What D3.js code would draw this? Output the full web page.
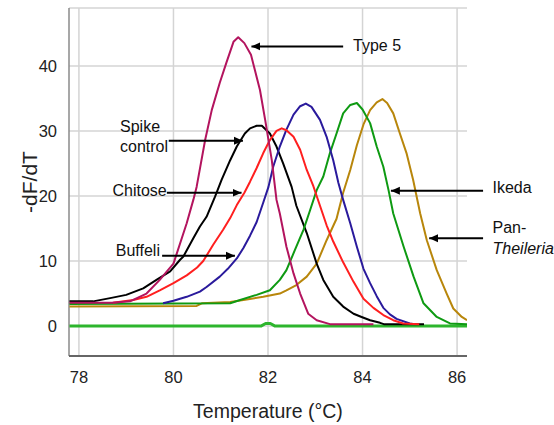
<!DOCTYPE html>
<html>
<head>
<meta charset="utf-8">
<script src="https://cdn.jsdelivr.net/npm/d3@7"></script>
<style>
  body { margin: 0; background: #fff; }
  svg { display: block; font-family: "Liberation Sans", Arial, sans-serif; }
</style>
</head>
<body>
<div id="chart"></div>
<script>
// melt curves, each point is [temperature °C, -dF/dT]
const type5 = [[77.8,3.6],[78.7,3.6],[79.08,3.8],[79.43,5.0],[79.71,7.1],[80.0,9.6],[80.28,15.8],[80.42,19.4],
  [80.49,21.4],[80.67,28.6],[80.81,33.2],[80.98,37.4],[81.12,40.5],[81.27,43.7],[81.37,44.4],[81.5,43.5],
  [81.64,41.7],[81.83,36.3],[81.94,31.7],[82.08,25.5],[82.18,19.4],[82.25,17.3],[82.39,12.2],[82.54,8.1],
  [82.68,5.0],[82.85,1.9],[83.03,0.9],[83.31,0.3],[84.23,0.3]];

const spikeControl = [[77.8,3.8],[78.3,3.8],[78.66,4.3],[79.0,4.8],[79.36,5.8],[79.64,7.1],[79.93,8.4],[80.14,10.2],
  [80.21,10.7],[80.42,13.5],[80.56,15.3],[80.7,16.8],[80.88,19.9],[81.02,22.5],[81.2,25.5],[81.34,27.6],
  [81.51,29.6],[81.62,30.4],[81.76,30.8],[81.87,30.8],[82.04,29.6],[82.18,27.6],[82.32,25.0],[82.5,21.4],
  [82.6,18.5],[82.82,14.3],[83.03,9.6],[83.17,7.1],[83.38,4.5],[83.59,3.0],[83.81,1.9],[83.98,1.4],
  [84.16,0.9],[84.37,0.5],[84.45,0.3],[85.3,0.3]];

const chitose = [[78.72,3.6],[79.15,4.0],[79.43,4.5],[79.71,5.5],[80.0,6.6],[80.28,7.8],[80.5,9.0],[80.63,10.0],
  [80.84,12.5],[81.05,14.8],[81.2,16.6],[81.34,18.6],[81.5,20.5],[81.62,22.2],[81.76,24.3],[81.9,26.6],
  [82.04,28.6],[82.18,30.0],[82.29,30.4],[82.39,30.1],[82.54,29.1],[82.68,27.1],[82.82,24.0],[82.96,21.5],
  [83.1,18.5],[83.24,15.5],[83.38,13.0],[83.59,9.8],[83.81,6.8],[84.02,4.2],[84.23,2.8],[84.44,1.7],
  [84.65,0.9],[84.86,0.4],[85.2,0.3]];

const buffeli = [[79.78,3.5],[80.0,3.9],[80.28,4.5],[80.56,5.3],[80.7,6.0],[80.98,7.6],[81.15,8.8],[81.34,10.4],
  [81.48,12.0],[81.62,13.9],[81.76,16.0],[81.9,19.0],[82.01,21.4],[82.11,24.5],[82.25,27.6],[82.39,30.2],
  [82.54,32.5],[82.68,33.8],[82.8,34.2],[82.92,33.7],[83.1,31.7],[83.24,29.1],[83.38,25.5],[83.49,22.0],
  [83.59,19.4],[83.74,15.8],[83.88,12.2],[84.02,8.8],[84.16,6.6],[84.3,4.6],[84.44,2.8],[84.58,1.8],
  [84.72,1.1],[85.0,0.4],[85.1,0.3]];

const ikeda = [[77.8,3.4],[81.2,3.5],[81.41,4.0],[81.76,4.8],[82.04,5.5],[82.25,7.1],[82.39,8.6],[82.57,11.7],
  [82.75,14.8],[82.89,17.8],[83.03,20.9],[83.17,23.0],[83.31,26.6],[83.45,29.6],[83.59,32.7],[83.74,34.0],
  [83.88,34.3],[84.0,33.3],[84.16,31.2],[84.3,27.6],[84.44,24.5],[84.55,20.9],[84.65,17.3],[84.87,12.2],
  [85.08,7.6],[85.29,3.5],[85.57,1.4],[85.85,0.4],[86.21,0.3]];

const panTheileria = [[77.8,3.0],[80.49,3.1],[80.6,3.5],[81.2,3.7],[81.55,4.1],[81.9,4.5],[82.25,5.0],[82.39,5.5],
  [82.6,6.3],[82.82,7.6],[83.03,9.6],[83.24,13.2],[83.45,16.5],[83.59,20.5],[83.74,24.0],[83.88,27.8],
  [84.02,31.0],[84.16,33.2],[84.3,34.4],[84.42,34.9],[84.52,34.3],[84.65,32.7],[84.79,29.6],[84.93,26.6],
  [85.07,22.5],[85.22,17.3],[85.36,13.2],[85.57,8.6],[85.78,5.0],[85.92,2.7],[86.1,1.4],[86.21,0.9]];

// no template control, flat with a tiny bump
const ntc = [[77.8,0],[81.85,0],[81.95,0.4],[82.05,0.4],[82.15,0],[86.21,0]];

const xTicks = [78, 80, 82, 84, 86];
const yTicks = [0, 10, 20, 30, 40];

const series = [
  { data: ntc, color: "#2db52d", width: 3 },
  { data: panTheileria, color: "#b8860b", width: 2 },
  { data: spikeControl, color: "#000000", width: 2 },
  { data: ikeda, color: "#0e9a12", width: 2 },
  { data: buffeli, color: "#2a1a9c", width: 2 },
  { data: chitose, color: "#ff1f1f", width: 2 },
  { data: type5, color: "#b3145e", width: 2 }
];

// annotation arrows (data units): from the label to the curve
const arrows = [
  { from: [83.59, 43.0], to: [81.65, 43.0] },
  { from: [79.9, 28.5], to: [81.47, 28.5] },
  { from: [79.86, 20.5], to: [81.44, 20.5] },
  { from: [79.76, 10.8], to: [81.30, 10.8] },
  { from: [86.55, 20.8], to: [84.60, 20.8] },
  { from: [86.55, 13.5], to: [85.41, 13.5] }
];

const labels = [
  { text: "Type 5", at: [83.8, 42.3] },
  { text: "Spike", at: [78.87, 29.9] },
  { text: "control", at: [78.87, 26.8] },
  { text: "Chitose", at: [78.71, 20.0] },
  { text: "Buffeli", at: [78.78, 10.8] },
  { text: "Ikeda", at: [86.75, 20.4] },
  { text: "Pan-", at: [86.75, 14.3] },
  { text: "Theileria", at: [86.75, 11.1], italic: true }
];

const W = 554, H = 425;
const margin = { top: 8, right: 87, bottom: 69, left: 69 };

const svg = d3.select("#chart").append("svg")
  .attr("width", W).attr("height", H);

const x = d3.scaleLinear().domain([77.79, 86.21]).range([margin.left, W - margin.right]);
const y = d3.scaleLinear().domain([-4.6, 48.9]).range([H - margin.bottom, margin.top]);

// grid
svg.append("g").selectAll("line").data(xTicks).enter().append("line")
  .attr("x1", d => x(d)).attr("x2", d => x(d))
  .attr("y1", y.range()[1]).attr("y2", y.range()[0])
  .attr("stroke", "#d4d4d4").attr("stroke-width", 1.5);

svg.append("g").selectAll("line").data(yTicks.concat([y.domain()[1]])).enter().append("line")
  .attr("x1", x.range()[0]).attr("x2", x.range()[1])
  .attr("y1", d => y(d)).attr("y2", d => y(d))
  .attr("stroke", "#d4d4d4").attr("stroke-width", 1.5);

// axis lines
svg.append("line")
  .attr("x1", x.range()[0]).attr("x2", x.range()[0])
  .attr("y1", y.range()[1]).attr("y2", y.range()[0])
  .attr("stroke", "#8a8a8a").attr("stroke-width", 1.5);

svg.append("line")
  .attr("x1", x.range()[0]).attr("x2", x.range()[1])
  .attr("y1", y.range()[0]).attr("y2", y.range()[0])
  .attr("stroke", "#666").attr("stroke-width", 2);

// tick labels
svg.append("g").selectAll("text").data(yTicks).enter().append("text")
  .attr("x", x.range()[0] - 12).attr("y", d => y(d) + 6)
  .attr("text-anchor", "end").attr("font-size", 16.5).attr("fill", "#222")
  .text(d => d);

svg.append("g").selectAll("text").data(xTicks).enter().append("text")
  .attr("x", d => x(d)).attr("y", 383)
  .attr("text-anchor", "middle").attr("font-size", 16.5).attr("fill", "#222")
  .text(d => d);

// axis titles
svg.append("text")
  .attr("x", (x.range()[0] + x.range()[1]) / 2).attr("y", 418)
  .attr("text-anchor", "middle").attr("font-size", 19.5).attr("fill", "#222")
  .text("Temperature (°C)");

svg.append("text")
  .attr("transform", `translate(37,${(y.range()[0] + y.range()[1]) / 2}) rotate(-90)`)
  .attr("text-anchor", "middle").attr("font-size", 21).attr("fill", "#222")
  .text("-dF/dT");

// curves
svg.append("clipPath").attr("id", "plot-clip").append("rect")
  .attr("x", x.range()[0]).attr("y", y.range()[1])
  .attr("width", x.range()[1] - x.range()[0]).attr("height", y.range()[0] - y.range()[1]);

const line = d3.line().x(d => x(d[0])).y(d => y(d[1]));

svg.append("g").attr("clip-path", "url(#plot-clip)")
  .selectAll("path").data(series).enter().append("path")
  .attr("d", d => line(d.data))
  .attr("fill", "none")
  .attr("stroke", d => d.color)
  .attr("stroke-width", d => d.width)
  .attr("stroke-linejoin", "round");

// arrows
svg.append("defs").append("marker")
  .attr("id", "head")
  .attr("viewBox", "0 -5 10 10")
  .attr("refX", 10).attr("refY", 0)
  .attr("markerUnits", "userSpaceOnUse")
  .attr("markerWidth", 9).attr("markerHeight", 9)
  .attr("orient", "auto")
  .append("path").attr("d", "M0,-4.5L10,0L0,4.5Z").attr("fill", "#000");

svg.append("g").selectAll("line").data(arrows).enter().append("line")
  .attr("x1", d => x(d.from[0])).attr("y1", d => y(d.from[1]))
  .attr("x2", d => x(d.to[0])).attr("y2", d => y(d.to[1]))
  .attr("stroke", "#000").attr("stroke-width", 2)
  .attr("marker-end", "url(#head)");

svg.append("g").selectAll("text").data(labels).enter().append("text")
  .attr("x", d => x(d.at[0])).attr("y", d => y(d.at[1]))
  .attr("font-size", 16).attr("fill", "#111")
  .attr("font-style", d => d.italic ? "italic" : "normal")
  .text(d => d.text);
</script>
</body>
</html>
